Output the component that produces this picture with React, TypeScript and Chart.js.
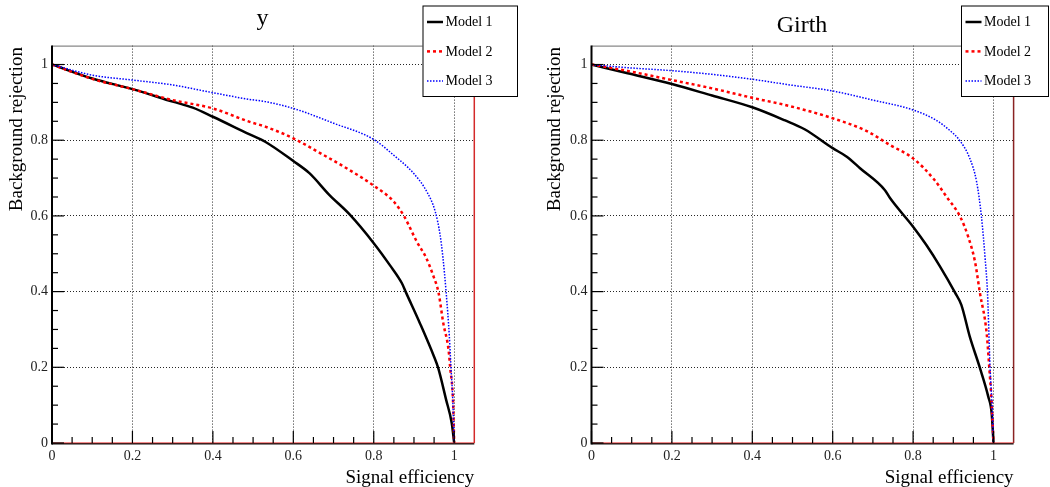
import React, { useEffect, useRef } from "react";
import { Chart, registerables } from "chart.js";
Chart.register(...registerables);

// ---------- data ----------
const panelTitles = ["y", "Girth"];
const modelNames = ["Model 1", "Model 2", "Model 3"];
const xAxisTitle = "Signal efficiency";
const yAxisTitle = "Background rejection";
const majorTicks = [0, 0.2, 0.4, 0.6, 0.8, 1];
const axisMax = 1.05;

// panel "y"
const yM1x = [0, 0.1, 0.2, 0.3, 0.35, 0.4, 0.49, 0.53, 0.6, 0.64, 0.69, 0.74, 0.8, 0.84, 0.87, 0.88, 0.915, 0.95, 0.96, 0.98, 0.994, 1.0];
const yM1y = [1, 0.963, 0.935, 0.902, 0.886, 0.862, 0.816, 0.796, 0.745, 0.713, 0.655, 0.604, 0.528, 0.47, 0.422, 0.398, 0.316, 0.228, 0.199, 0.114, 0.052, 0];
const yM2x = [0, 0.1, 0.2, 0.3, 0.4, 0.49, 0.53, 0.6, 0.66, 0.74, 0.8, 0.85, 0.876, 0.907, 0.93, 0.949, 0.961, 0.973, 0.986, 0.99, 0.997, 1.0];
const yM2y = [1, 0.962, 0.935, 0.906, 0.884, 0.849, 0.836, 0.805, 0.77, 0.721, 0.68, 0.6375, 0.598, 0.532, 0.49, 0.439, 0.398, 0.316, 0.246, 0.199, 0.114, 0];
const yM3x = [0, 0.1, 0.2, 0.3, 0.4, 0.49, 0.53, 0.6, 0.7, 0.8, 0.849, 0.899, 0.932, 0.953, 0.965, 0.972, 0.98, 0.988, 0.992, 0.9965, 1.0];
const yM3y = [1, 0.972, 0.959, 0.946, 0.9255, 0.908, 0.902, 0.884, 0.845, 0.802, 0.761, 0.7125, 0.664, 0.611, 0.5495, 0.49, 0.398, 0.281, 0.199, 0.114, 0];

// panel "Girth"
const gM1x = [0, 0.09, 0.2, 0.3, 0.4, 0.48, 0.53, 0.6, 0.635, 0.668, 0.73, 0.743, 0.8, 0.833, 0.866, 0.904, 0.92, 0.941, 0.966, 0.987, 0.9955, 1.0];
const gM1y = [1, 0.977, 0.9485, 0.918, 0.887, 0.853, 0.829, 0.779, 0.7565, 0.726, 0.668, 0.6465, 0.5715, 0.523, 0.468, 0.398, 0.365, 0.281, 0.199, 0.1225, 0.078, 0];
const gM2x = [0, 0.09, 0.2, 0.3, 0.4, 0.494, 0.6, 0.685, 0.743, 0.8, 0.85, 0.883, 0.917, 0.937, 0.954, 0.966, 0.983, 0.9895, 0.9955, 1.0];
const gM2y = [1, 0.983, 0.959, 0.937, 0.912, 0.89, 0.858, 0.824, 0.787, 0.752, 0.699, 0.651, 0.598, 0.545, 0.479, 0.398, 0.29, 0.199, 0.105, 0];
const gM3x = [0, 0.09, 0.2, 0.3, 0.4, 0.494, 0.6, 0.7, 0.8, 0.857, 0.89, 0.917, 0.941, 0.958, 0.97, 0.979, 0.985, 0.9915, 0.997, 1.0];
const gM3y = [1, 0.9916, 0.9837, 0.974, 0.961, 0.946, 0.93, 0.906, 0.88, 0.853, 0.827, 0.798, 0.752, 0.69, 0.598, 0.49, 0.398, 0.199, 0.085, 0];

// ---------- styles ----------
const FONT = "'Liberation Serif', 'Times New Roman', serif";
const W = 525;
const H = 487;
const lineStyles = [
  { color: "#000000", width: 2.5, dash: [] as number[] },
  { color: "#ff0000", width: 2.5, dash: [3, 3] },
  { color: "#0000ff", width: 1.5, dash: [1.5, 1.5] },
];

type Panel = {
  title: string;
  titleX: number;
  titleY: number;
  xs: number[][];
  ys: number[][];
  plotLeft: number;
  plotRight: number;
  plotTop: number;
  plotBottom: number;
  legend: { l: number; r: number; t: number; b: number };
  yTitleX: number;
  frameRed: string;
};

const panels: Panel[] = [
  {
    title: panelTitles[0],
    titleX: 262.5,
    titleY: 24.5,
    xs: [yM1x, yM2x, yM3x],
    ys: [yM1y, yM2y, yM3y],
    plotLeft: 52,
    plotRight: 474.3,
    plotTop: 45.6,
    plotBottom: 443,
    legend: { l: 422.5, r: 518, t: 5.5, b: 97 },
    yTitleX: 17,
    frameRed: "#d42a2a",
  },
  {
    title: panelTitles[1],
    titleX: 277,
    titleY: 32,
    xs: [gM1x, gM2x, gM3x],
    ys: [gM1y, gM2y, gM3y],
    plotLeft: 66.5,
    plotRight: 488.6,
    plotTop: 45.6,
    plotBottom: 443,
    legend: { l: 436, r: 524, t: 5.5, b: 97 },
    yTitleX: 30.5,
    frameRed: "#8a2323",
  },
];

const fmt = (v: number) => {
  const r = Math.round(v * 10) / 10;
  return r === 0 ? "0" : r === 1 ? "1" : String(r);
};

function framePlugin(p: Panel) {
  return {
    id: "rootFrame",
    afterDraw(chart: any) {
      const ctx: CanvasRenderingContext2D = chart.ctx;
      const xs = chart.scales.x;
      const ys = chart.scales.y;
      const L = xs.getPixelForValue(0);
      const R = xs.getPixelForValue(axisMax);
      const T = ys.getPixelForValue(axisMax);
      const B = ys.getPixelForValue(0);
      const seg = (x1: number, y1: number, x2: number, y2: number) => {
        ctx.beginPath();
        ctx.moveTo(x1, y1);
        ctx.lineTo(x2, y2);
        ctx.stroke();
      };
      ctx.save();
      ctx.setLineDash([]);
      // top frame
      ctx.strokeStyle = "#6a6a6a";
      ctx.lineWidth = 1;
      seg(L, T + 0.5, R, T + 0.5);
      // right red edge
      ctx.strokeStyle = p.frameRed;
      ctx.lineWidth = 1.5;
      seg(R, T, R, B);
      // bottom axis
      ctx.strokeStyle = "#111";
      ctx.lineWidth = 1.5;
      seg(L, B + 0.8, R, B + 0.8);
      ctx.strokeStyle = "rgba(235,60,60,0.85)";
      ctx.lineWidth = 1;
      seg(L, B - 0.2, R, B - 0.2);
      // left axis
      ctx.strokeStyle = "#000";
      ctx.lineWidth = 2;
      seg(L, T, L, B + 1.5);
      // ticks (inward)
      ctx.lineWidth = 1.2;
      ctx.strokeStyle = "#000";
      for (let i = 0; i <= 20; i++) {
        const v = i / 20;
        const len = i % 4 === 0 ? 12 : 6;
        const py = ys.getPixelForValue(v);
        seg(L, py, L + len, py);
        const px = xs.getPixelForValue(v);
        seg(px, B, px, B - len);
      }
      // legend box
      const lg = p.legend;
      ctx.fillStyle = "#fff";
      ctx.fillRect(lg.l, lg.t, lg.r - lg.l, lg.b - lg.t);
      ctx.strokeStyle = "#000";
      ctx.lineWidth = 1;
      ctx.strokeRect(lg.l + 0.5, lg.t + 0.5, lg.r - lg.l - 1, lg.b - lg.t - 1);
      const rowY = [22, 51.4, 81];
      ctx.font = `14px ${FONT}`;
      ctx.textAlign = "left";
      ctx.textBaseline = "middle";
      modelNames.forEach((name, i) => {
        const st = lineStyles[i];
        ctx.strokeStyle = st.color;
        ctx.lineWidth = st.width;
        ctx.setLineDash(st.dash);
        seg(lg.l + 4.5, rowY[i], lg.l + 20.5, rowY[i]);
        ctx.setLineDash([]);
        ctx.fillStyle = "#000";
        ctx.fillText(name, lg.l + 23, rowY[i] + 0.5);
      });
      // title
      ctx.font = `24px ${FONT}`;
      ctx.textAlign = "center";
      ctx.textBaseline = "alphabetic";
      ctx.fillStyle = "#000";
      ctx.fillText(p.title, p.titleX, p.titleY);
      // axis titles
      ctx.font = `19px ${FONT}`;
      ctx.textAlign = "right";
      ctx.textBaseline = "middle";
      ctx.fillText(xAxisTitle, R, 478);
      ctx.save();
      ctx.translate(p.yTitleX, T + 1.5);
      ctx.rotate(-Math.PI / 2);
      ctx.textAlign = "right";
      ctx.textBaseline = "middle";
      ctx.fillText(yAxisTitle, 0, 0);
      ctx.restore();
      ctx.restore();
    },
  };
}

function PanelChart({ p, left }: { p: Panel; left: number }) {
  const ref = useRef<HTMLCanvasElement | null>(null);
  useEffect(() => {
    if (!ref.current) return;
    const gridColor = (c: any) =>
      c.tick && Math.abs(c.tick.value) < 1e-9 ? "rgba(0,0,0,0)" : "rgba(0,0,0,0.85)";
    const tickFont = { family: FONT, size: 14 };
    const chart = new Chart(ref.current, {
      type: "line",
      data: {
        datasets: modelNames.map((name, i) => ({
          label: name,
          data: p.xs[i].map((x, j) => ({ x, y: p.ys[i][j] })),
          borderColor: lineStyles[i].color,
          borderWidth: lineStyles[i].width,
          borderDash: lineStyles[i].dash,
          pointRadius: 0,
          fill: false,
          cubicInterpolationMode: "monotone",
          order: 3 - i,
        })),
      },
      options: {
        animation: false,
        responsive: false,
        maintainAspectRatio: false,
        layout: {
          padding: { left: 0, right: W - p.plotRight, top: p.plotTop, bottom: 0 },
        },
        plugins: {
          legend: { display: false },
          tooltip: { enabled: false },
          title: { display: false },
        },
        scales: {
          x: {
            type: "linear",
            min: 0,
            max: axisMax,
            afterBuildTicks: (s: any) => {
              s.ticks = majorTicks.map((v) => ({ value: v }));
            },
            afterFit: (s: any) => {
              s.height = H - p.plotBottom;
            },
            grid: { color: gridColor, lineWidth: 1, drawTicks: false },
            border: { display: false, dash: [1, 2] },
            ticks: {
              font: tickFont,
              color: "#222",
              padding: 5,
              maxRotation: 0,
              autoSkip: false,
              callback: (v: any) => fmt(Number(v)),
            },
          },
          y: {
            type: "linear",
            min: 0,
            max: axisMax,
            afterBuildTicks: (s: any) => {
              s.ticks = majorTicks.map((v) => ({ value: v }));
            },
            afterFit: (s: any) => {
              s.width = p.plotLeft;
            },
            grid: { color: gridColor, lineWidth: 1, drawTicks: false },
            border: { display: false, dash: [1, 2] },
            ticks: {
              font: tickFont,
              color: "#222",
              padding: 4,
              autoSkip: false,
              callback: (v: any) => fmt(Number(v)),
            },
          },
        },
      } as any,
      plugins: [framePlugin(p)],
    });
    return () => chart.destroy();
  }, [p]);
  return (
    <canvas
      ref={ref}
      width={W}
      height={H}
      style={{ position: "absolute", left, top: 0, width: W, height: H, display: "block" }}
    />
  );
}

export default function App() {
  return (
    <div
      style={{
        position: "fixed",
        left: 0,
        top: 0,
        width: 1050,
        height: 487,
        background: "#fff",
        overflow: "hidden",
      }}
    >
      <PanelChart p={panels[0]} left={0} />
      <PanelChart p={panels[1]} left={525} />
    </div>
  );
}
